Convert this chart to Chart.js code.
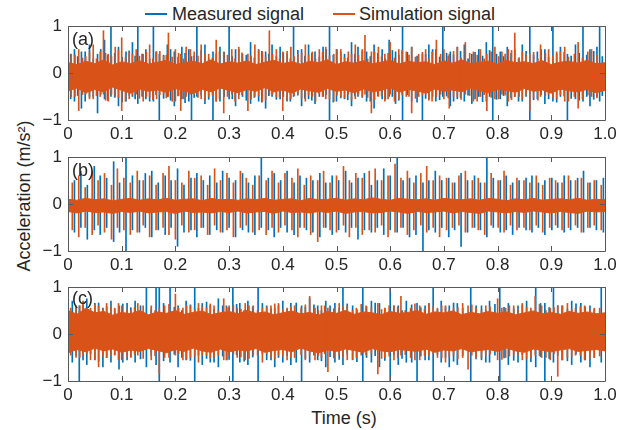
<!DOCTYPE html>
<html>
<head>
<meta charset="utf-8">
<script src="https://cdn.jsdelivr.net/npm/chart.js@4.4.1/dist/chart.umd.min.js"></script>
<style>
  body { margin: 0; background: #fff; }
  #wrap { position: relative; width: 630px; height: 430px; font-family: 'Liberation Sans', Arial, sans-serif; color: #262626; }
  canvas { position: absolute; left: 0; }
  .txt { position: absolute; white-space: nowrap; font-size: 18px; line-height: 18px; }
  .key { position: absolute; height: 1.5px; width: 22px; }
</style>
</head>
<body>
<div id="wrap">
  <div class="key" style="left:145px; top:13px; background:#0072BD"></div>
  <div class="txt" style="left:172px; top:5px">Measured signal</div>
  <div class="key" style="left:333px; top:13px; background:#D95319"></div>
  <div class="txt" style="left:359px; top:5px">Simulation signal</div>
  <div class="txt" style="left:24px; top:196px; transform: translate(-50%,-50%) rotate(-90deg)">Acceleration (m/s²)</div>
  <div class="txt" style="left:344px; top:418px; transform: translate(-50%,-50%)">Time (s)</div>
  <canvas id="chartA" width="630" height="128" style="top:18px"></canvas>
  <canvas id="chartB" width="630" height="128" style="top:149px"></canvas>
  <canvas id="chartC" width="630" height="128" style="top:279px"></canvas>
  <div class="txt" style="left:72px; top:30px">(a)</div>
  <div class="txt" style="left:72px; top:161px">(b)</div>
  <div class="txt" style="left:72px; top:289px">(c)</div>
</div>
<script>
// axis ticks
const xTickValues = [0, 0.1, 0.2, 0.3, 0.4, 0.5, 0.6, 0.7, 0.8, 0.9, 1.0];
const xTickLabels = ['0', '0.1', '0.2', '0.3', '0.4', '0.5', '0.6', '0.7', '0.8', '0.9', '1.0'];
const yTickValues = [-1, 0, 1];
const yTickLabels = ['\u22121', '0', '1'];

// The dense part of each signal is kept as an upper/lower envelope (61 samples over 0..1 s),
// the spikes that stand out of it as time / low / high lists.

// ---- (a)
const measAUpper = [
  .18,.15,.21,.17,.24,.14,.2,.17,.22,.16, .2,.23,.15,.19,.21,.17,.24,.16,.2,.18,
  .22,.15,.2,.23,.17,.2,.16,.21,.19,.24, .15,.2,.18,.22,.17,.19,.23,.16,.21,.19,
  .2,.15,.22,.18,.24,.17,.19,.21,.16,.23, .19,.2,.17,.22,.15,.19,.21,.18,.23,.17, .19
];
const measALower = [
  -.34,-.29,-.38,-.31,-.36,-.27,-.33,-.39,-.3,-.35, -.32,-.37,-.29,-.34,-.4,-.31,-.36,-.29,-.33,-.38,
  -.31,-.35,-.28,-.36,-.32,-.39,-.3,-.34,-.37,-.29, -.35,-.32,-.38,-.3,-.36,-.33,-.28,-.37,-.31,-.34,
  -.39,-.3,-.35,-.32,-.36,-.29,-.34,-.38,-.31,-.33, -.37,-.29,-.35,-.32,-.39,-.3,-.34,-.36,-.31,-.38, -.33
];
const simAUpper = [
  .22,.18,.25,.2,.28,.17,.24,.2,.26,.19, .23,.27,.18,.22,.25,.2,.28,.19,.24,.21,
  .26,.18,.23,.27,.2,.24,.19,.25,.22,.28, .18,.24,.21,.26,.2,.23,.27,.19,.25,.22,
  .24,.18,.26,.21,.28,.2,.23,.25,.19,.27, .22,.24,.2,.26,.18,.23,.25,.21,.27,.2, .22
];
const simALower = [
  -.38,-.32,-.42,-.35,-.4,-.3,-.37,-.43,-.34,-.39, -.36,-.41,-.33,-.38,-.44,-.35,-.4,-.32,-.37,-.42,
  -.35,-.39,-.31,-.4,-.36,-.43,-.34,-.38,-.41,-.33, -.39,-.36,-.42,-.34,-.4,-.37,-.31,-.41,-.35,-.38,
  -.43,-.34,-.39,-.36,-.4,-.32,-.38,-.42,-.35,-.37, -.41,-.33,-.39,-.36,-.43,-.34,-.38,-.4,-.35,-.42, -.37
];
const measASpikeT = [
  .012,.025,.04,.055,.068,.08,.094,.108,.12,.13, .145,.159,.17,.185,.198,.212,.225,.23,.24,.255,
  .27,.283,.30,.312,.325,.34,.355,.368,.38,.395, .408,.42,.435,.448,.46,.475,.487,.50,.515,.528,
  .54,.556,.57,.585,.598,.61,.623,.64,.66,.672, .685,.698,.712,.725,.738,.752,.765,.779,.791,.805,
  .818,.832,.846,.86,.874,.888,.903,.917,.93,.945, .959,.972,.985,.99
];
const measASpikeHi = [
  .5,.45,.6,.4,.7,1.1,.55,.45,.65,1.1, .5,1.1,.4,.6,.45,.55,.5,.35,1.1,.6,
  .45,.55,1.1,.5,.4,.65,.5,.45,.6,.55, .4,1.1,.5,.6,.45,.55,1.1,.5,.4,.65,
  .55,.45,.6,.5,.7,.45,1.1,.55,.4,.6, .5,1.1,.45,.55,.6,.4,.5,.65,1.1,.45,
  .55,.5,.6,1.1,.45,.5,1.1,.55,.4,.6, 1.1,.5,.55,1.1
];
const measASpikeLo = [
  -.6,-.75,-.5,-.85,-.55,-.5,-.7,-.6,-.5,-.65, -.55,-.6,-1.1,-.5,-.7,-.55,-.6,-1.1,-.5,-.65,
  -1.1,-.6,-.55,-.7,-.5,-.65,-.6,-.75,-.5,-.55, -.6,-.5,-.7,-.55,-.65,-.5,-1.1,-.6,-.55,-.7,
  -.5,-.6,-.75,-.55,-.5,-.65,-1.1,-.6,-1.1,-.55, -.6,-.5,-.7,-.55,-.6,-.65,-.5,-.6,-1.1,-.55,
  -.7,-.5,-.6,-1.1,-.55,-.65,-.6,-.5,-1.1,-.55, -.6,-.7,-.5,-.6
];
const measAMinorT = [
  .005,.018,.032,.047,.061,.074,.087,.101,.114,.125, .138,.152,.164,.178,.191,.205,.218,.235,.248,.262,
  .276,.291,.306,.318,.332,.347,.361,.374,.388,.401, .414,.428,.441,.454,.468,.481,.494,.508,.521,.534,
  .548,.563,.577,.591,.604,.616,.632,.65,.666,.679, .692,.705,.718,.731,.745,.758,.772,.785,.798,.811,
  .825,.839,.853,.867,.881,.895,.91,.924,.937,.952, .966,.979,.995
];
const measAMinorHi = [
  .4,.35,.45,.3,.5,.38,.42,.33,.47,.36, .4,.3,.45,.38,.5,.34,.42,.36,.48,.3,
  .4,.44,.35,.5,.38,.32,.46,.4,.35,.43, .3,.48,.36,.42,.34,.5,.38,.44,.32,.4,
  .46,.35,.42,.3,.48,.38,.44,.36,.4,.5, .34,.42,.38,.46,.3,.44,.36,.48,.4,.35,
  .42,.3,.46,.38,.5,.34,.4,.44,.36,.42, .38,.46,.35
];
const measAMinorLo = [
  -.55,-.48,-.6,-.5,-.45,-.58,-.52,-.62,-.47,-.55, -.5,-.6,-.46,-.54,-.58,-.49,-.63,-.52,-.47,-.56,
  -.6,-.5,-.55,-.46,-.58,-.52,-.62,-.48,-.56,-.5, -.6,-.47,-.54,-.58,-.5,-.46,-.62,-.53,-.57,-.49,
  -.52,-.6,-.48,-.56,-.5,-.58,-.46,-.62,-.54,-.5, -.57,-.49,-.6,-.52,-.47,-.55,-.61,-.5,-.56,-.48,
  -.53,-.6,-.5,-.57,-.46,-.55,-.62,-.49,-.54,-.58, -.5,-.56,-.48
];
const simASpikeT = [
  .006,.02,.033,.047,.06,.066,.075,.088,.1,.114, .127,.14,.152,.165,.178,.187,.2,.21,.22,.235,
  .248,.262,.276,.29,.305,.318,.335,.348,.362,.375, .388,.40,.415,.428,.442,.455,.468,.48,.495,.508,
  .522,.535,.548,.553,.565,.578,.59,.60,.616,.63, .64,.653,.666,.678,.686,.70,.71,.725,.74,.755,
  .768,.78,.795,.808,.82,.832,.846,.86,.88,.895, .91,.925,.95,.975
];
const simASpikeHi = [
  .4,.5,.35,.6,.45,.9,.4,.55,.75,.45, .5,.4,.6,.45,.35,.85,.5,.4,.55,.45,
  .6,.4,.7,.45,.5,.55,.4,.6,.45,.9, .5,.45,.55,.4,.6,.45,.5,.55,.4,.5,
  .45,.6,.5,.8,.45,.55,.4,.65,.5,.45, .55,.4,.5,.45,.7,.5,.4,.55,.65,.45,
  .5,.4,.55,.45,.5,.85,.45,.4,.6,.5, .45,.55,.65,.5
];
const simASpikeLo = [
  -.5,-.8,-.45,-.55,-.5,-.45,-.6,-.5,-.8,-.55, -.45,-.6,-.5,-.55,-.45,-.5,-.6,-.8,-.5,-.45,
  -.55,-.5,-.6,-.85,-.45,-.55,-.8,-.5,-.6,-.45, -.5,-.8,-.55,-.45,-.6,-.5,-.45,-.55,-.6,-.5,
  -.45,-.55,-.5,-.45,-.85,-.5,-.6,-.45,-.55,-.5, -.85,-.5,-.45,-.6,-.5,-.55,-.75,-.5,-.45,-.6,
  -.5,-.8,-.55,-.45,-.6,-.5,-.55,-.8,-.5,-.45, -.55,-.6,-.75,-.5
];
const simAMinorT = [
  .013,.027,.04,.053,.07,.081,.094,.107,.12,.133, .146,.158,.171,.183,.194,.206,.215,.228,.242,.255,
  .269,.282,.297,.311,.324,.341,.355,.368,.381,.394, .408,.421,.435,.448,.461,.474,.487,.501,.515,.528,
  .541,.558,.571,.584,.596,.608,.622,.635,.647,.66, .672,.694,.708,.718,.732,.748,.762,.775,.788,.802,
  .814,.826,.84,.853,.867,.875,.889,.903,.917,.932, .943,.958,.968,.985
];
const simAMinorHi = [
  .38,.32,.45,.3,.42,.35,.48,.33,.4,.36, .44,.3,.46,.38,.34,.42,.3,.5,.36,.4,
  .32,.45,.38,.3,.43,.36,.48,.34,.4,.3, .46,.35,.42,.38,.3,.44,.36,.5,.33,.4,
  .38,.3,.45,.35,.42,.32,.48,.38,.34,.44, .3,.4,.36,.46,.32,.42,.38,.3,.45,.35,
  .4,.48,.33,.38,.44,.3,.42,.36,.46,.34, .4,.32,.45,.38
];
const simAMinorLo = [
  -.5,-.46,-.55,-.48,-.58,-.45,-.52,-.6,-.47,-.54, -.5,-.57,-.46,-.53,-.6,-.48,-.55,-.45,-.52,-.58,
  -.47,-.54,-.5,-.6,-.46,-.55,-.49,-.57,-.45,-.52, -.58,-.48,-.54,-.46,-.6,-.5,-.55,-.47,-.53,-.58,
  -.45,-.52,-.57,-.48,-.55,-.6,-.46,-.5,-.54,-.47, -.58,-.45,-.53,-.5,-.56,-.48,-.6,-.46,-.52,-.55,
  -.47,-.57,-.5,-.45,-.54,-.58,-.48,-.52,-.46,-.6, -.5,-.55,-.47,-.53
];

// ---- (b) periodic impacts
const measBUpper = [
  .08,.06,.1,.07,.09,.05,.08,.1,.06,.09, .07,.1,.06,.08,.09,.05,.1,.07,.08,.06,
  .09,.07,.1,.06,.08,.09,.05,.1,.07,.08, .1,.06,.09,.07,.11,.08,.06,.1,.08,.07,
  .09,.06,.1,.08,.07,.09,.06,.1,.08,.05, .09,.07,.1,.06,.08,.09,.07,.1,.06,.08, .07
];
const measBLower = [
  -.14,-.17,-.13,-.16,-.15,-.18,-.14,-.16,-.13,-.17, -.15,-.14,-.18,-.13,-.16,-.15,-.17,-.14,-.16,-.13,
  -.17,-.15,-.14,-.18,-.13,-.16,-.15,-.17,-.14,-.16, -.13,-.18,-.15,-.14,-.17,-.16,-.13,-.15,-.18,-.14,
  -.16,-.15,-.13,-.17,-.14,-.16,-.18,-.13,-.15,-.17, -.14,-.16,-.13,-.15,-.17,-.14,-.16,-.18,-.13,-.15, -.14
];
const simBUpper = [
  .1,.08,.12,.09,.11,.07,.1,.12,.08,.11, .09,.12,.08,.1,.11,.07,.12,.09,.1,.08,
  .11,.09,.12,.08,.1,.11,.07,.12,.09,.1, .12,.08,.11,.09,.13,.1,.08,.12,.1,.09,
  .11,.08,.12,.1,.09,.11,.08,.12,.1,.07, .11,.09,.12,.08,.1,.11,.09,.12,.08,.1, .09
];
const simBLower = [
  -.16,-.19,-.15,-.18,-.17,-.2,-.16,-.18,-.15,-.19, -.17,-.16,-.2,-.15,-.18,-.17,-.19,-.16,-.18,-.15,
  -.19,-.17,-.16,-.2,-.15,-.18,-.17,-.19,-.16,-.18, -.15,-.2,-.17,-.16,-.19,-.18,-.15,-.17,-.2,-.16,
  -.18,-.17,-.15,-.19,-.16,-.18,-.2,-.15,-.17,-.19, -.16,-.18,-.15,-.17,-.19,-.16,-.18,-.2,-.15,-.17, -.16
];
const measBSpikeT = [
  .012,.024,.036,.049,.06,.072,.085,.096,.108,.12, .133,.144,.156,.168,.181,.192,.204,.216,.229,.24,
  .252,.264,.277,.288,.3,.312,.325,.336,.348,.36, .373,.384,.396,.408,.421,.432,.444,.456,.469,.48,
  .492,.504,.517,.528,.54,.552,.565,.576,.588,.6, .613,.624,.636,.648,.661,.672,.684,.696,.709,.72,
  .732,.744,.757,.768,.78,.792,.805,.816,.828,.84, .853,.864,.876,.888,.901,.912,.924,.936,.949,.96,
  .972,.984,.997
];
const measBSpikeHi = [
  .5,.7,.4,.8,.6,.55,.9,.45,1.1,.6, .5,.65,.7,.45,.6,.5,.75,.4,.55,.65,
  .5,.6,.45,.7,.55,.5,.65,.45,.6,1.1, .55,.65,.5,.7,.45,.6,.55,.5,.65,.45,
  .6,.5,.7,.45,.55,.65,.4,.5,.75,.6, 1.1,.5,.55,.6,.45,.5,.7,.5,.55,.45,
  .65,.5,.6,.45,1.1,.55,.5,.6,.45,.5, .55,.6,.45,.5,.55,.45,.6,.5,.55,.7,
  .45,.5,.55
];
const measBSpikeLo = [
  -.6,-.5,-.75,-.55,-.65,-.5,-.8,-.6,-1.1,-.55, -.6,-.5,-.7,-.55,-.65,-.5,-.9,-.6,-.55,-.7,
  -.5,-.65,-.55,-.6,-.5,-.7,-.55,-.6,-.65,-.5, -.55,-.7,-.5,-.6,-.65,-.5,-.55,-.6,-.7,-.5,
  -.65,-.55,-.6,-.5,-.75,-.55,-.6,-.5,-.65,-.55, -.6,-.5,-.7,-.65,-1.1,-.55,-.6,-.5,-.7,-.55,
  -.9,-.6,-.5,-.55,-.7,-.5,-.6,-.55,-.65,-.5, -.55,-.6,-.5,-.65,-.55,-.5,-.6,-.55,-.5,-.6,
  -.5,-.55,-.6
];
const simBSpikeT = [
  .008,.02,.032,.045,.056,.068,.081,.092,.104,.116, .129,.14,.152,.164,.177,.188,.2,.212,.225,.236,
  .248,.26,.273,.284,.296,.308,.321,.332,.344,.356, .369,.38,.392,.404,.417,.428,.44,.452,.465,.476,
  .488,.5,.513,.524,.536,.548,.561,.572,.584,.596, .609,.62,.632,.644,.657,.668,.68,.692,.705,.716,
  .728,.74,.753,.764,.776,.788,.801,.812,.824,.836, .849,.86,.872,.884,.897,.908,.92,.932,.945,.956,
  .968,.98,.993
];
const simBSpikeHi = [
  .45,.6,.35,.7,.5,.65,.4,.75,.55,.45, .7,.5,.6,.4,.65,.8,.5,.45,.7,.55,
  .6,.4,.75,.5,.65,.45,.7,.55,.4,.6, .5,.7,.45,.65,.55,.75,.4,.6,.5,.7,
  .45,.6,.8,.5,.65,.55,.7,.75,.5,.6, .85,.55,.7,.45,.65,.8,.5,.6,.55,.45,
  .6,.7,.5,.55,.45,.65,.5,.7,.4,.55, .5,.45,.6,.4,.55,.5,.45,.6,.5,.55,
  .45,.5,.4
];
const simBSpikeLo = [
  -.55,-.7,-.5,-.65,-.45,-.6,-.75,-.5,-.55,-.65, -.6,-.45,-.7,-.55,-.5,-.65,-.75,-.45,-.6,-.55,
  -.5,-.65,-.45,-.6,-.55,-.7,-.5,-.45,-.6,-.55, -.65,-.5,-.6,-.45,-.55,-.7,-.5,-.65,-.8,-.5,
  -.55,-.6,-.45,-.7,-.5,-.65,-.55,-.6,-.45,-.7, -.6,-.5,-.65,-.55,-.45,-.6,-.5,-.7,-.55,-.5,
  -.45,-.6,-.5,-.55,-.65,-.45,-.5,-.6,-.45,-.55, -.5,-.55,-.45,-.6,-.5,-.45,-.55,-.5,-.45,-.6,
  -.5,-.45,-.55
];

// ---- (c)
const measCUpper = [
  .46,.39,.51,.42,.45,.37,.43,.4,.46,.38, .44,.41,.46,.39,.43,.45,.38,.42,.45,.4,
  .46,.41,.44,.38,.42,.45,.4,.43,.37,.45, .41,.46,.39,.44,.42,.38,.45,.41,.43,.46,
  .39,.44,.42,.45,.38,.43,.4,.45,.41,.44, .38,.42,.45,.4,.43,.39,.45,.41,.44,.4, .42
];
const measCLower = [
  -.36,-.3,-.34,-.27,-.33,-.29,-.35,-.31,-.34,-.28, -.32,-.36,-.3,-.34,-.27,-.33,-.35,-.29,-.34,-.31,
  -.33,-.28,-.35,-.32,-.3,-.34,-.27,-.33,-.36,-.31, -.34,-.29,-.32,-.35,-.28,-.33,-.34,-.3,-.32,-.34,
  -.29,-.35,-.31,-.33,-.28,-.34,-.32,-.3,-.34,-.27, -.33,-.35,-.29,-.32,-.34,-.31,-.28,-.34,-.32,-.3, -.33
];
const simCUpper = [
  .5,.42,.55,.45,.48,.4,.46,.43,.5,.41, .47,.44,.5,.42,.46,.49,.41,.45,.48,.43,
  .5,.44,.47,.41,.45,.49,.43,.46,.4,.48, .44,.5,.42,.47,.45,.41,.48,.44,.46,.5,
  .42,.47,.45,.49,.41,.46,.43,.48,.44,.47, .41,.45,.49,.43,.46,.42,.48,.44,.47,.43, .45
];
const simCLower = [
  -.4,-.33,-.38,-.3,-.36,-.32,-.39,-.34,-.37,-.31, -.35,-.4,-.33,-.37,-.3,-.36,-.39,-.32,-.38,-.34,
  -.36,-.31,-.39,-.35,-.33,-.38,-.3,-.36,-.4,-.34, -.37,-.32,-.35,-.39,-.31,-.36,-.38,-.33,-.35,-.37,
  -.32,-.39,-.34,-.36,-.31,-.38,-.35,-.33,-.37,-.3, -.36,-.39,-.32,-.35,-.38,-.34,-.31,-.37,-.35,-.33, -.36
];
const measCSpikeT = [
  .008,.021,.035,.05,.065,.08,.095,.11,.125,.146, .164,.17,.19,.205,.22,.236,.25,.265,.28,.295,
  .307,.32,.335,.354,.37,.385,.40,.415,.435,.45, .465,.48,.497,.512,.53,.549,.565,.58,.60,.615,
  .63,.65,.665,.68,.695,.71,.725,.75,.77,.785, .804,.82,.838,.854,.871,.888,.904,.92,.938,.955,
  .972,.993
];
const measCSpikeHi = [
  .7,.6,.75,.65,.55,.7,.6,.65,.7,1.1, 1.1,1.1,1.1,.6,.7,1.1,.65,.6,.75,.6,
  1.1,.65,.7,1.1,.6,.55,.7,.65,.6,.75, .6,.7,.65,1.1,.6,1.1,.7,.65,1.1,.6,
  .7,.65,.6,1.1,.7,.6,.65,1.1,.6,.7, 1.1,.65,.6,.7,1.1,.65,1.1,.6,.7,.65,
  .6,1.1
];
const measCSpikeLo = [
  -.6,-1.1,-.65,-.55,-.7,-.6,-.75,-.55,-.6,-.7, -.65,-1.1,-.6,-.7,-.55,-1.1,-.65,-.6,-.7,-.55,
  -1.1,-.6,-.65,-1.1,-.55,-.7,-.6,-.65,-1.1,-.6, -.55,-.7,-.6,-.65,-.55,-1.1,-.6,-.7,-1.1,-.65,
  -.6,-1.1,-.55,-1.1,-.6,-.7,-.65,-1.1,-.55,-.6, -1.1,-.65,-.6,-1.1,-.7,-1.1,-.6,-.55,-.65,-.6,
  -.7,-.6
];
const measCMinorT = [
  .015,.028,.042,.057,.072,.087,.102,.117,.135,.155, .178,.198,.212,.228,.243,.258,.272,.288,.3,.314,
  .328,.344,.362,.378,.392,.408,.425,.442,.458,.472, .488,.505,.52,.538,.556,.572,.59,.607,.622,.64,
  .657,.672,.688,.703,.718,.735,.76,.778,.795,.812, .83,.846,.862,.88,.896,.912,.93,.946,.963,.98
];
const measCMinorHi = [
  .55,.62,.5,.66,.58,.52,.64,.56,.6,.53, .65,.57,.5,.62,.55,.68,.52,.6,.57,.63,
  .5,.58,.65,.54,.6,.52,.66,.57,.62,.5, .6,.55,.64,.52,.58,.66,.54,.6,.5,.62,
  .56,.64,.52,.58,.66,.55,.6,.5,.63,.57, .54,.62,.5,.65,.56,.6,.53,.64,.58,.52
];
const measCMinorLo = [
  -.45,-.55,-.42,-.58,-.5,-.44,-.6,-.48,-.53,-.46, -.57,-.43,-.5,-.56,-.45,-.52,-.6,-.47,-.54,-.44,
  -.58,-.49,-.42,-.55,-.5,-.46,-.6,-.52,-.45,-.57, -.48,-.54,-.43,-.59,-.5,-.46,-.56,-.44,-.52,-.6,
  -.47,-.55,-.43,-.5,-.58,-.46,-.53,-.6,-.45,-.51, -.56,-.44,-.59,-.48,-.52,-.46,-.57,-.43,-.55,-.5
];
const simCSpikeT = [
  .015,.028,.042,.057,.072,.087,.1,.117,.13,.155, .17,.18,.2,.214,.228,.243,.258,.272,.29,.3,
  .315,.33,.345,.362,.378,.392,.408,.422,.45,.46, .472,.484,.505,.52,.537,.555,.577,.59,.607,.62,
  .638,.655,.672,.688,.703,.718,.735,.745,.76,.778, .8,.815,.83,.846,.862,.87,.882,.898,.912,.93,
  .945,.962,.98
];
const simCSpikeHi = [
  .6,.7,.55,.6,.65,.55,.6,.5,.65,.6, .55,.6,.85,.55,.6,.65,.55,.6,.75,.6,
  .55,.65,.6,.55,.6,.65,.55,.6,.8,.55, .6,.55,.65,.6,.55,.6,.65,.55,.6,.8,
  .55,.6,.65,.55,.6,.55,.65,.6,.55,.6, .75,.55,.6,.65,.55,.8,.6,.55,.6,.65,
  .55,.6,.55
];
const simCSpikeLo = [
  -.5,-.45,-.55,-.7,-.5,-.45,-.55,-.5,-.45,-.55, -.85,-.5,-.45,-.55,-.5,-.6,-.45,-.5,-.55,-.45,
  -.5,-.55,-.45,-.6,-.5,-.45,-.55,-.5,-.45,-.55, -.5,-.8,-.45,-.55,-.5,-.45,-.85,-.5,-.55,-.45,
  -.5,-.55,-.45,-.5,-.6,-.45,-.5,-.75,-.5,-.45, -.55,-.5,-.45,-.55,-.5,-.45,-.5,-.55,-.9,-.5,
  -.45,-.55,-.5
];
const simCMinorT = [
  .005,.022,.035,.05,.065,.08,.094,.11,.124,.14, .162,.188,.206,.221,.236,.25,.265,.28,.296,.308,
  .322,.337,.353,.37,.385,.4,.415,.434,.442,.466, .478,.495,.512,.53,.546,.565,.584,.598,.614,.628,
  .646,.664,.68,.696,.71,.726,.752,.77,.786,.808, .822,.838,.854,.878,.89,.905,.921,.938,.954,.972, .99
];
const simCMinorHi = [
  .55,.6,.5,.62,.53,.58,.65,.52,.57,.6, .5,.63,.55,.6,.52,.58,.64,.5,.56,.61,
  .53,.6,.5,.57,.64,.52,.58,.55,.62,.5, .6,.54,.58,.5,.63,.56,.52,.6,.57,.5,
  .64,.53,.58,.6,.51,.56,.62,.5,.58,.55, .6,.52,.57,.63,.5,.56,.6,.53,.58,.52, .55
];
const simCMinorLo = [
  -.45,-.5,-.42,-.53,-.47,-.44,-.55,-.48,-.43,-.52, -.46,-.5,-.42,-.54,-.47,-.44,-.51,-.45,-.55,-.43,
  -.49,-.52,-.45,-.42,-.53,-.47,-.5,-.44,-.55,-.46, -.42,-.51,-.48,-.54,-.45,-.43,-.52,-.47,-.5,-.44,
  -.55,-.46,-.42,-.51,-.48,-.53,-.45,-.5,-.43,-.54, -.47,-.44,-.52,-.46,-.5,-.42,-.55,-.48,-.45,-.51, -.47
];

const BLUE = '#0072BD';
const ORANGE = '#D95319';
const AXIS_COLOR = '#595959';
const FONT = { family: "'Liberation Sans', Arial, sans-serif", size: 17 };

// envelope sample k of n sits at time k/(n-1)
function toPoints(values) {
  return values.map((v, k) => ({ x: k / (values.length - 1), y: v }));
}
function spikes(times, lo, hi) {
  return times.map((t, k) => ({ x: t, y: [lo[k], hi[k]] }));
}

// matlab-like box with inward ticks
const boxPlugin = {
  id: 'box',
  afterDraw(chart) {
    const { ctx, chartArea: a, scales } = chart;
    ctx.save();
    ctx.strokeStyle = AXIS_COLOR;
    ctx.lineWidth = 1;
    ctx.beginPath();
    ctx.rect(Math.round(a.left) + 0.5, Math.round(a.top) + 0.5,
             Math.round(a.right - a.left), Math.round(a.bottom - a.top));
    xTickValues.forEach(v => {
      const px = Math.round(scales.x.getPixelForValue(v)) + 0.5;
      ctx.moveTo(px, a.bottom); ctx.lineTo(px, a.bottom - 5);
      ctx.moveTo(px, a.top); ctx.lineTo(px, a.top + 5);
    });
    yTickValues.forEach(v => {
      const py = Math.round(scales.y.getPixelForValue(v)) + 0.5;
      ctx.moveTo(a.left, py); ctx.lineTo(a.left + 5, py);
      ctx.moveTo(a.right, py); ctx.lineTo(a.right - 5, py);
    });
    ctx.stroke();
    ctx.restore();
  }
};

function band(values, color, fill, width, order) {
  return { type: 'line', data: toPoints(values), borderColor: color, backgroundColor: color,
           borderWidth: width, pointRadius: 0, tension: 0, fill: fill, clip: 0, order: order };
}
function needles(times, lo, hi, color, order) {
  return { type: 'bar', data: spikes(times, lo, hi), backgroundColor: color,
           barThickness: 1, grouped: false, clip: 0, order: order };
}

function seriesSets(s, color, bandWidth, order) {
  const sets = [
    band(s.upper, color, '+1', bandWidth, order + 1),
    band(s.lower, color, false, bandWidth, order + 1),
    needles(s.t, s.lo, s.hi, color, order)
  ];
  if (s.minorT) sets.push(needles(s.minorT, s.minorLo, s.minorHi, color, order));
  return sets;
}

function makePanel(id, m, s) {
  return new Chart(document.getElementById(id), {
    type: 'line',
    data: { datasets: seriesSets(m, BLUE, 0, 3).concat(seriesSets(s, ORANGE, 1, 1)) },
    options: {
      responsive: false,
      animation: false,
      events: [],
      layout: { padding: { top: 8, right: 25, left: 0, bottom: 0 } },
      plugins: { legend: { display: false }, tooltip: { enabled: false } },
      scales: {
        x: {
          type: 'linear', min: 0, max: 1, offset: false,
          grid: { display: false, drawTicks: false },
          border: { display: false },
          afterBuildTicks: sc => { sc.ticks = xTickValues.map(v => ({ value: v })); },
          afterFit: sc => { sc.height = 26; sc.paddingLeft = 0; sc.paddingRight = 0; },
          ticks: { font: FONT, color: '#262626', padding: 4, maxRotation: 0, autoSkip: false,
                   callback: (v, i) => xTickLabels[i] }
        },
        y: {
          type: 'linear', min: -1, max: 1,
          grid: { display: false, drawTicks: false },
          border: { display: false },
          afterBuildTicks: sc => { sc.ticks = yTickValues.map(v => ({ value: v })); },
          afterFit: sc => { sc.width = 68; sc.paddingTop = 0; sc.paddingBottom = 0; },
          ticks: { font: FONT, color: '#262626', padding: 6,
                   callback: (v, i) => yTickLabels[i] }
        }
      }
    },
    plugins: [boxPlugin]
  });
}

makePanel('chartA',
  { upper: measAUpper, lower: measALower, t: measASpikeT, lo: measASpikeLo, hi: measASpikeHi,
    minorT: measAMinorT, minorLo: measAMinorLo, minorHi: measAMinorHi },
  { upper: simAUpper, lower: simALower, t: simASpikeT, lo: simASpikeLo, hi: simASpikeHi,
    minorT: simAMinorT, minorLo: simAMinorLo, minorHi: simAMinorHi });
makePanel('chartB',
  { upper: measBUpper, lower: measBLower, t: measBSpikeT, lo: measBSpikeLo, hi: measBSpikeHi },
  { upper: simBUpper, lower: simBLower, t: simBSpikeT, lo: simBSpikeLo, hi: simBSpikeHi });
makePanel('chartC',
  { upper: measCUpper, lower: measCLower, t: measCSpikeT, lo: measCSpikeLo, hi: measCSpikeHi,
    minorT: measCMinorT, minorLo: measCMinorLo, minorHi: measCMinorHi },
  { upper: simCUpper, lower: simCLower, t: simCSpikeT, lo: simCSpikeLo, hi: simCSpikeHi,
    minorT: simCMinorT, minorLo: simCMinorLo, minorHi: simCMinorHi });
</script>
</body>
</html>
